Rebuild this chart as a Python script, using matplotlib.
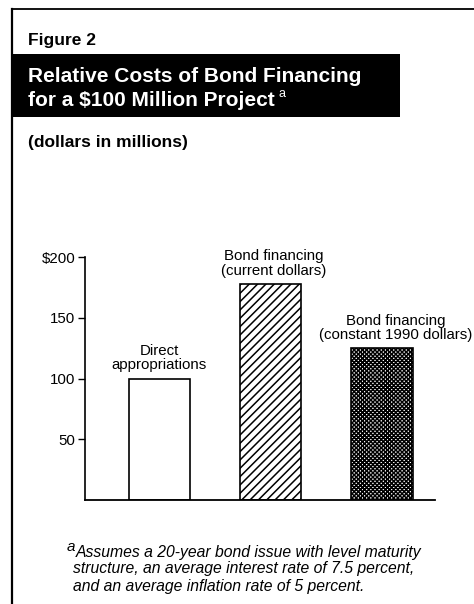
import matplotlib
matplotlib.use("Agg")
import matplotlib.pyplot as plt
from matplotlib.patches import Rectangle
from matplotlib.lines import Line2D

# data
categories = ["Direct\nappropriations",
              "Bond financing\n(current dollars)",
              "Bond financing\n(constant 1990 dollars)"]
values = [100, 178, 125]
yticks = [50, 100, 150, 200]
ytick_labels = ["50", "100", "150", "$200"]
hatches = ["", "////", "xxxxxxxx"]

plt.rcParams["font.family"] = ["Liberation Sans", "DejaVu Sans"]
plt.rcParams["hatch.linewidth"] = 1.1

W, H = 474, 604
fig = plt.figure(figsize=(W / 100, H / 100), dpi=100)

def fx(x):
    return x / W

def fy(y):
    return 1 - y / H

# page border (top and left)
fig.add_artist(Line2D([fx(12), 1.0], [fy(9), fy(9)], color="black", lw=1.3))
fig.add_artist(Line2D([fx(12), fx(12)], [fy(9), 0.0], color="black", lw=1.6))

fig.text(fx(28), fy(40), "Figure 2", fontsize=12.5, fontweight="bold", va="center")

# black title band
fig.add_artist(Rectangle((fx(12), fy(117)), fx(400) - fx(12), fy(54) - fy(117),
                         transform=fig.transFigure, facecolor="black", edgecolor="none"))
fig.text(fx(28), fy(77), "Relative Costs of Bond Financing", color="white",
         fontsize=15, fontweight="bold", va="center")
t2 = fig.text(fx(28), fy(101), "for a \\$100 Million Project", color="white",
              fontsize=15, fontweight="bold", va="center")
fig.add_artist(plt.Annotation("a", xy=(1, 0.55), xycoords=t2, xytext=(3, 0),
                              textcoords="offset points", color="white",
                              fontsize=9, va="bottom"))

fig.text(fx(28), fy(143), "(dollars in millions)", fontsize=12.5,
         fontweight="bold", va="center")

# chart
ax = fig.add_axes([fx(85), fy(500), fx(435) - fx(85), fy(257) - fy(500)])
pos = list(range(len(values)))
bars = ax.bar(pos, values, width=0.55, color="white", edgecolor="black", linewidth=1.2)
for b, h in zip(bars, hatches):
    b.set_hatch(h)

ax.set_xlim(-0.667, 2.477)
ax.set_ylim(0, 200)
ax.set_yticks(yticks)
ax.set_yticklabels(ytick_labels, fontsize=10.8)
ax.set_xticks([])
ax.tick_params(axis="y", direction="out", length=5, width=1, pad=2)
for s in ["top", "right"]:
    ax.spines[s].set_visible(False)
ax.spines["left"].set_linewidth(1.2)
ax.spines["bottom"].set_linewidth(1.3)

label_dx = [0, 0.03, 0.12]
for p, v, lab, dx in zip(pos, values, categories, label_dx):
    ax.text(p + dx, v + 5, lab, ha="center", va="bottom", fontsize=10.8,
            linespacing=1.02, clip_on=False)

# footnote
fig.text(fx(67), fy(547), "a", fontsize=11, style="italic", va="center")
fig.text(fx(76), fy(552), "Assumes a 20-year bond issue with level maturity",
         fontsize=11.3, style="italic", va="center")
fig.text(fx(73), fy(569), "structure, an average interest rate of 7.5 percent,",
         fontsize=11.3, style="italic", va="center")
fig.text(fx(73), fy(586), "and an average inflation rate of 5 percent.",
         fontsize=11.3, style="italic", va="center")

fig.savefig("out.png", dpi=100)
